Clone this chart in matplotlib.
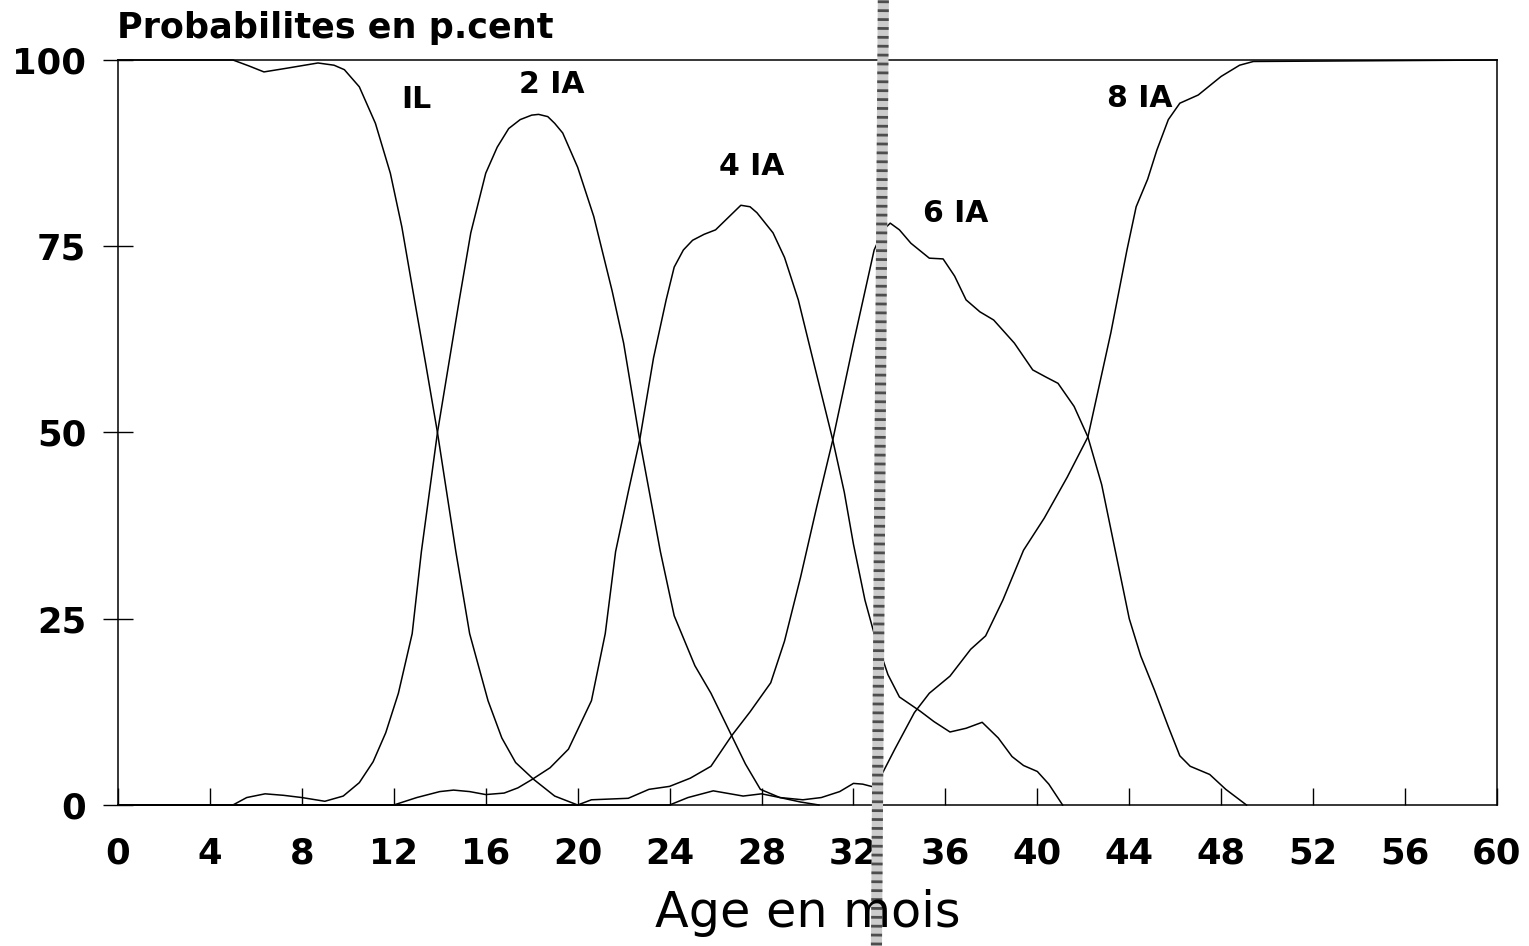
import matplotlib
matplotlib.use("Agg")
import matplotlib.pyplot as plt

plt.rcParams['font.family'] = ['DejaVu Sans']

# values (months, percent)
il_months = [0, 5, 5.7, 6.35, 7.35, 8.7, 9.4, 9.85, 10.5, 11.2, 11.85, 12.35, 12.9, 13.4,
             13.9, 14.7, 15.3, 16.1, 16.7, 17.3, 18.1, 19, 20]
il_pct = [100, 100, 99.2, 98.4, 98.9, 99.6, 99.3, 98.7, 96.4, 91.5, 84.8, 77.6, 67.8, 59,
          50, 34, 23, 14, 9, 5.7, 3.4, 1.2, 0]

ia2_months = [0, 5.0, 5.6, 6.4, 7.2, 8, 9, 9.8, 10.5, 11.1, 11.65, 12.2, 12.8, 13.2, 13.9,
              14.85, 15.35, 16.0, 16.5, 17.0, 17.5, 18.0, 18.3, 18.7, 19.0, 19.35, 20.0,
              20.7, 21.5, 22.0, 22.7, 23.6, 24.2, 25.1, 25.8, 26.7, 27.3, 27.95, 28.8,
              29.7, 30.5]
ia2_pct = [0, 0, 1.0, 1.5, 1.3, 1.0, 0.5, 1.2, 3.0, 5.8, 9.7, 15, 23, 34, 50,
           67.8, 76.8, 84.8, 88.3, 90.8, 92, 92.6, 92.7, 92.4, 91.5, 90.2, 85.6,
           79, 69, 62, 49, 34, 25.4, 18.7, 15, 9.3, 5.5, 2.1, 1.0,
           0.4, 0]

ia4_months = [0, 12, 13.0, 14.0, 14.6, 15.3, 16, 16.8, 17.4, 18, 18.8, 19.6, 20.6, 21.2,
              21.65, 22.2, 22.7, 23.3, 23.85, 24.2, 24.6, 25, 25.5, 26, 26.6, 27.1, 27.5,
              27.8, 28.5, 29.0, 29.6, 30.3, 31.1, 31.6, 32.0, 32.5, 32.9, 33.5, 34.0,
              34.9, 35.5, 36.2, 36.9, 37.6, 38.3, 38.9, 39.4, 40, 40.5, 41.1]
ia4_pct = [0, 0, 1.0, 1.8, 2.0, 1.8, 1.4, 1.6, 2.3, 3.4, 5.0, 7.5, 14, 23,
           34, 42, 49, 60, 67.8, 72.2, 74.5, 75.8, 76.6, 77.2, 79, 80.5, 80.3,
           79.5, 76.8, 73.5, 67.8, 59, 49, 42, 35, 27.5, 23, 17.5, 14.5,
           12.6, 11.2, 9.8, 10.3, 11.1, 9, 6.5, 5.3, 4.5, 2.8, 0]

ia6_months = [0, 20, 20.6, 21.4, 22.2, 23.1, 24, 24.9, 25.8, 26.7, 27.5, 28.4, 29.0, 29.7,
              30.4, 31.1, 32.0, 32.9, 33.3, 33.6, 34.0, 34.5, 35.3, 35.9, 36.4, 36.9,
              37.5, 38.1, 39.0, 39.8, 40.4, 40.9, 41.6, 42.2, 42.8, 43.4, 44.0, 44.5,
              45.1, 45.7, 46.2, 46.65, 47.5, 48.2, 49.1]
ia6_pct = [0, 0, 0.7, 0.8, 0.9, 2.1, 2.5, 3.6, 5.2, 9.3, 12.5, 16.4, 22, 30.6,
           40, 49, 62, 74.5, 77.2, 78.1, 77.2, 75.4, 73.4, 73.3, 71, 67.8,
           66.2, 65.1, 62, 58.4, 57.4, 56.6, 53.5, 49.4, 43, 34, 25, 20,
           15.4, 10.5, 6.6, 5.2, 4.1, 2.1, 0]

ia8_months = [0, 24, 24.8, 25.9, 27.2, 28, 28.8, 29.8, 30.6, 31.4, 32, 32.4, 32.9, 33.3,
              33.8, 34.65, 35.3, 36.2, 37.1, 37.75, 38.5, 39.4, 40.3, 41.3, 42.2, 43.2,
              43.9, 44.3, 44.8, 45.2, 45.7, 46.2, 47, 48, 48.8, 49.4, 60]
ia8_pct = [0, 0, 1.0, 1.9, 1.2, 1.5, 1.0, 0.7, 1.0, 1.8, 2.9, 2.8, 2.4, 4.5,
           7.5, 12.4, 15, 17.3, 20.9, 22.7, 27.5, 34.2, 38.5, 44, 49.4, 63.4,
           74.5, 80.3, 84, 87.9, 92, 94.2, 95.3, 97.8, 99.3, 99.8, 100]

series = [("IL", il_months, il_pct), ("2 IA", ia2_months, ia2_pct),
          ("4 IA", ia4_months, ia4_pct), ("6 IA", ia6_months, ia6_pct),
          ("8 IA", ia8_months, ia8_pct)]

# where each curve name is written (month, percent)
label_pos = {"IL": (12.97, 93.6), "2 IA": (18.88, 95.6), "4 IA": (27.59, 84.6),
             "6 IA": (36.44, 78.3), "8 IA": (44.47, 93.7)}

marker_months = [33.3, 33.0]   # shaded vertical mark, slightly tilted
x_ticks = list(range(0, 61, 4))
y_ticks = [0, 25, 50, 75, 100]

fig = plt.figure(figsize=(15.29, 9.46), dpi=100)
ax = fig.add_axes([0.07717, 0.14905, 0.9019, 0.78753])

for name, months, pct in series:
    ax.plot(months, pct, color="black", lw=1.1, clip_on=False, solid_joinstyle="round")
    lx, ly = label_pos[name]
    ax.text(lx, ly, name, ha="center", va="baseline", fontsize=21.5, fontweight="bold")

# stippled vertical band
ax.plot(marker_months, [108, -19], color="0.8", lw=8, clip_on=False, zorder=3)
ax.plot(marker_months, [108, -19], color="0.3", lw=8, clip_on=False, zorder=4,
        linestyle=(0, (0.25, 0.55)))

ax.set_xlim(0, 60)
ax.set_ylim(0, 100)
ax.set_xticks(x_ticks)
ax.set_yticks(y_ticks)
ax.tick_params(axis="x", direction="in", length=12, width=1.0, pad=23,
               labelsize=25.5, top=False)
ax.tick_params(axis="y", direction="inout", length=21.6, width=1.0, pad=12,
               labelsize=25.5, right=False)
for lab in ax.get_xticklabels() + ax.get_yticklabels():
    lab.set_fontweight("bold")
for sp in ax.spines.values():
    sp.set_linewidth(1.1)

fig.text(117 / 1529, 1 - 38 / 946, "Probabilites en p.cent", ha="left", va="baseline",
         fontsize=25.2, fontweight="bold")
fig.text(807.5 / 1529, 1 - 927 / 946, "Age en mois", ha="center", va="baseline",
         fontsize=35.5)

fig.savefig("out.png", dpi=100)
